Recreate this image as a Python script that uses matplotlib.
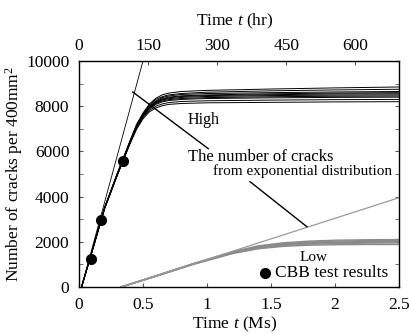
import matplotlib
matplotlib.use("Agg")
import matplotlib.pyplot as plt
from matplotlib.ticker import MultipleLocator

plt.rcParams["font.family"] = "serif"
plt.rcParams["font.serif"] = ["Liberation Serif", "DejaVu Serif"]
plt.rcParams["mathtext.fontset"] = "custom"
plt.rcParams["mathtext.rm"] = "Liberation Serif"
plt.rcParams["mathtext.it"] = "Liberation Serif:italic"
plt.rcParams["font.size"] = 12.5

# --- data ---
# High: simulated crack-count curves, t in Ms
high_t = [0.02, 0.1, 0.2, 0.3, 0.4, 0.45, 0.5, 0.55, 0.6, 0.65, 0.7, 0.8, 1.0, 1.5, 2.0, 2.5]
high_runs = [
    [0, 1550, 3500, 5050, 6500, 7200, 7700, 8100, 8350, 8500, 8580, 8650, 8700, 8760, 8810, 8850],
    [0, 1560, 3520, 5000, 6450, 7150, 7650, 8050, 8300, 8420, 8500, 8560, 8620, 8680, 8720, 8750],
    [0, 1540, 3480, 4980, 6420, 7100, 7620, 8000, 8230, 8380, 8450, 8520, 8560, 8600, 8630, 8650],
    [0, 1550, 3500, 5000, 6450, 7120, 7600, 7980, 8200, 8330, 8400, 8460, 8500, 8550, 8580, 8600],
    [0, 1530, 3470, 4970, 6400, 7080, 7580, 7950, 8170, 8300, 8370, 8430, 8470, 8510, 8540, 8550],
    [0, 1550, 3500, 5000, 6430, 7100, 7600, 7950, 8150, 8270, 8330, 8390, 8430, 8470, 8490, 8500],
    [0, 1560, 3510, 5020, 6460, 7110, 7590, 7920, 8120, 8230, 8290, 8340, 8380, 8420, 8440, 8450],
    [0, 1540, 3490, 4990, 6410, 7060, 7550, 7880, 8080, 8190, 8250, 8300, 8340, 8370, 8390, 8400],
    [0, 1550, 3480, 4980, 6400, 7040, 7500, 7820, 8000, 8100, 8160, 8210, 8240, 8270, 8290, 8300],
    [0, 1530, 3460, 4950, 6350, 6980, 7440, 7750, 7920, 8020, 8080, 8120, 8150, 8170, 8190, 8200],
]

# Low: simulated crack-count curves
low_t = [0.33, 0.6, 0.9, 1.2, 1.4, 1.6, 1.8, 2.0, 2.25, 2.5]
low_runs = [
    [0, 500, 1050, 1560, 1820, 1960, 2030, 2070, 2090, 2100],
    [0, 490, 1040, 1540, 1790, 1920, 1990, 2030, 2050, 2060],
    [0, 480, 1030, 1530, 1770, 1900, 1960, 1990, 2010, 2020],
    [0, 490, 1040, 1520, 1750, 1870, 1930, 1960, 1980, 1990],
    [0, 480, 1020, 1500, 1720, 1840, 1890, 1920, 1940, 1950],
    [0, 470, 1010, 1480, 1690, 1800, 1850, 1870, 1880, 1880],
]

# exponential-distribution lines
exp_high_t = [0.02, 0.5]
exp_high_n = [0, 10000]
exp_low_t = [0.33, 2.5]
exp_low_n = [0, 3950]

# CBB test results
cbb_t = [0.09, 0.17, 0.34]
cbb_n = [1250, 2950, 5580]

MS_PER_HR = 0.0036

fig = plt.figure(figsize=(4.10, 3.33), dpi=100)
ax = fig.add_axes([79 / 410, 46 / 333, 320 / 410, 226 / 333])

for run in low_runs:
    ax.plot(low_t, run, color="#8a8a8a", lw=1.0)
ax.plot(exp_low_t, exp_low_n, color="#9a9a9a", lw=0.9)

for run in high_runs:
    ax.plot(high_t, run, color="black", lw=0.7)
ax.plot(exp_high_t, exp_high_n, color="black", lw=0.6)

ax.plot(cbb_t, cbb_n, "o", color="black", ms=7, zorder=5)

# annotations
ax.plot([0.42, 1.01], [8630, 6120], color="black", lw=1.0)
ax.plot([1.336, 1.78], [4660, 2670], color="black", lw=1.0)
ax.text(0.85, 7390, "High", ha="left", va="center", fontsize=11.5)
ax.text(0.85, 5770, "The number of cracks", ha="left", va="center", fontsize=12)
ax.text(1.05, 5150, "from exponential distribution", ha="left", va="center", fontsize=11)
ax.text(1.83, 1300, "Low", ha="center", va="center", fontsize=11)
ax.plot([1.45], [630], "o", color="black", ms=7)
ax.text(1.53, 600, "CBB test results", ha="left", va="center")

ax.set_xlim(0, 2.5)
ax.set_ylim(0, 10000)
ax.set_xticks([0, 0.5, 1, 1.5, 2, 2.5])
ax.set_xticklabels(["0", "0.5", "1", "1.5", "2", "2.5"])
ax.set_yticks([0, 2000, 4000, 6000, 8000, 10000])
ax.yaxis.set_minor_locator(MultipleLocator(1000))
ax.tick_params(which="both", direction="in", length=3, color="#555555",
               right=True, top=False)
ax.tick_params(axis="x", pad=7.5)
ax.tick_params(axis="y", pad=7)
ax.set_xlabel("Time $t$ (Ms)")
ax.xaxis.set_label_coords(0.4875, -0.166)
ax.xaxis.label.set_va("center")
ax.set_ylabel("Number of cracks per 400mm$^2$")
ax.yaxis.set_label_coords(-0.203, 0.5)
ax.yaxis.label.set_va("center")
for sp in ax.spines.values():
    sp.set_color("#333333")
    sp.set_linewidth(1.0)

top = ax.twiny()
top.set_xlim(0, 2.5 / MS_PER_HR)
top.set_xticks([0, 150, 300, 450, 600])
top.tick_params(direction="in", length=3, color="#555555", pad=5)
top.set_xlabel("Time $t$ (hr)")
top.xaxis.set_label_coords(0.4875, 1.174)
top.xaxis.label.set_va("center")

fig.savefig("out.png", dpi=100)
